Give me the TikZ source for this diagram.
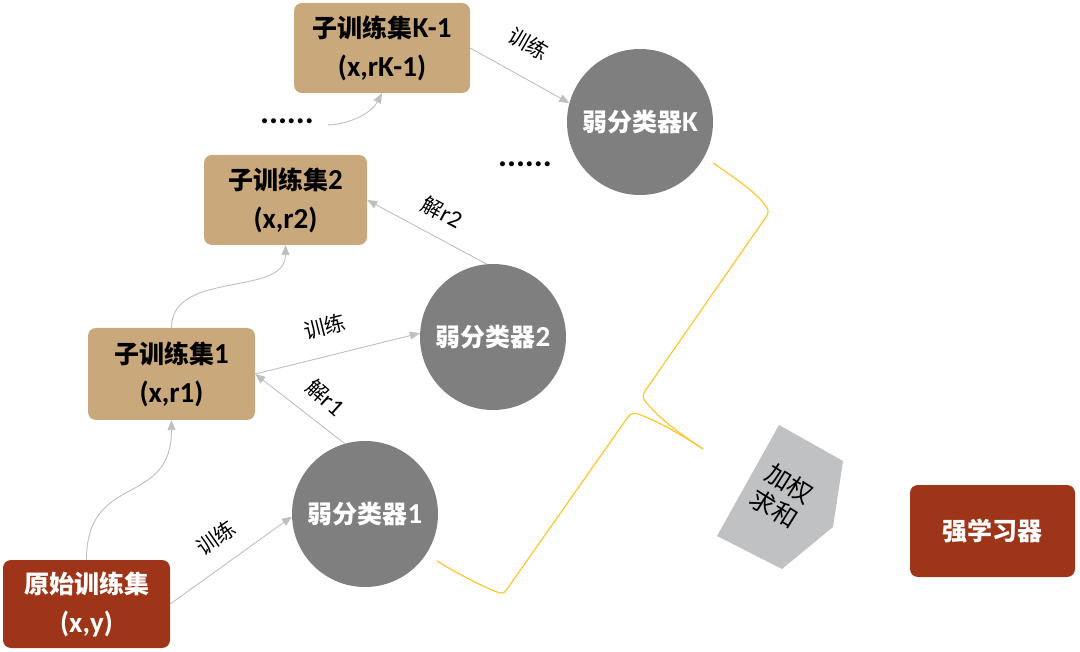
\documentclass[tikz,border=0pt]{standalone}
\usepackage{fontspec}
\setmainfont{Carlito}[Scale=1.16]
\newfontfamily\cjk{Noto Sans CJK SC}
\usetikzlibrary{arrows.meta}
\definecolor{darkred}{HTML}{9E3519}
\definecolor{tan}{HTML}{C9A97B}
\definecolor{circgray}{HTML}{7F7F7F}
\definecolor{polygray}{HTML}{C0C1C3}
\definecolor{arrowgray}{HTML}{BFBFBF}
\definecolor{braceyellow}{HTML}{FFC62E}
\newcommand{\C}[1]{{\cjk #1}}
\begin{document}
\begin{tikzpicture}[x=1pt,y=-1pt,
  setbox/.style={rectangle,rounded corners=8pt,inner sep=0pt,align=center,
    font=\fontsize{25}{39}\selectfont\bfseries},
  origbox/.style={setbox,fill=darkred,text=white},
  subbox/.style={setbox,fill=tan,text=black},
  weak/.style={circle,fill=circgray,text=white,inner sep=0pt,minimum size=146pt,
    font=\fontsize{25}{28}\selectfont\bfseries},
  conn/.style={draw=arrowgray,line width=0.9pt,-{Triangle[length=10pt,width=8pt]}},
  lbl/.style={font=\fontsize{21}{23}\selectfont,text=black,inner sep=1pt},
  dotsnode/.style={font=\fontsize{29}{29}\selectfont\bfseries,inner sep=0pt},
  brace/.style={draw=braceyellow,line width=1.2pt}
]
\useasboundingbox (0,0) rectangle (1080,652);

\node[origbox,minimum width=167pt,minimum height=88pt] (orig) at (86.5,604) {\C{原始训练集}\\(x,y)};
\node[subbox,minimum width=167pt,minimum height=92pt] (sub1) at (171.5,374) {\C{子训练集}1\\(x,r1)};
\node[subbox,minimum width=163pt,minimum height=90pt] (sub2) at (285.5,200) {\C{子训练集}2\\(x,r2)};
\node[subbox,minimum width=176pt,minimum height=90pt] (subK) at (382,48) {\C{子训练集}K-1\\(x,rK-1)};
\node[origbox,minimum width=165pt,minimum height=92pt] (strong) at (992.5,531) {\C{强学习器}};

\node[weak] (c1) at (365,514) {\C{弱分类器}1};
\node[weak] (c2) at (493,337) {\C{弱分类器}2};
\node[weak] (cK) at (640,122) {\C{弱分类器}K};

\node[dotsnode] (dots1) at (287,121) {......};
\node[dotsnode] (dots2) at (525,164) {......};
\coordinate (d1s) at (328,125);

% weighted sum polygon
\fill[polygray] (779,425) -- (843,461) -- (833,527) -- (782,569) -- (717,536) -- cycle;
\node[font=\fontsize{25}{30}\selectfont,align=center,rotate=-32,inner sep=0pt] (wsum) at (782,496) {\C{加权}\\\C{求和}};

% connectors
\draw[conn] (orig.east) -- (c1.182);
\node[lbl,rotate=35] (l1) at (216,538) {\C{训练}};

\draw[conn] (orig.north) .. controls +(0,-88) and +(0,88) .. (sub1.south);

\draw[conn] (c1.106) -- (sub1.east);
\node[lbl,rotate=-42] (l2) at (325,398) {\C{解}r1};

\draw[conn] (sub1.east) -- (c2.177);
\node[lbl,rotate=14] (l3) at (325,327) {\C{训练}};

\draw[conn] (sub1.north) .. controls +(0,-58) and +(0,52) .. (sub2.south);

\draw[conn] (c2.95) -- (sub2.east);
\node[lbl,rotate=-28] (l4) at (442,212) {\C{解}r2};

\draw[conn] (d1s) .. controls (352,124) and (372,112) .. (subK.south);

\draw[conn] (subK.east) -- (cK.165);
\node[lbl,rotate=-30] (l5) at (529,44) {\C{训练}};

% yellow brace
\draw[brace] (437,561) .. controls (465,578) and (490,590) .. (500,593)
  .. controls (503,594) and (505,592) .. (507,589) -- (628,417)
  .. controls (631,413) and (634,413) .. (638,414)
  .. controls (660,422) and (685,437) .. (703,449);
\draw[brace] (713,163) .. controls (735,178) and (760,195) .. (767,208)
  .. controls (769,211) and (768,214) .. (766,217) -- (645,391)
  .. controls (642,396) and (643,399) .. (646,402)
  .. controls (660,420) and (685,437) .. (703,449);
\end{tikzpicture}
\end{document}
